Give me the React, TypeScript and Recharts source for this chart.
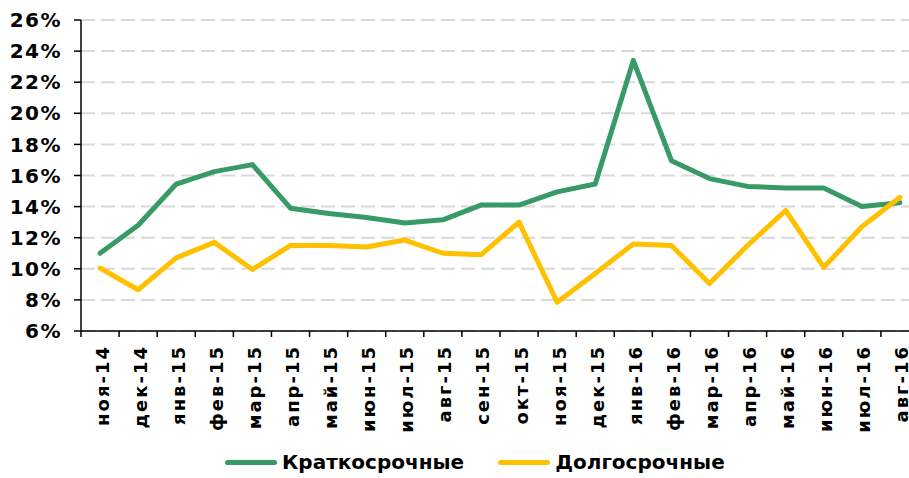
import React from 'react';
import { LineChart, Line, XAxis, YAxis, CartesianGrid, Legend } from 'recharts';

const months = ['ноя-14','дек-14','янв-15','фев-15','мар-15','апр-15','май-15','июн-15','июл-15','авг-15','сен-15','окт-15','ноя-15','дек-15','янв-16','фев-16','мар-16','апр-16','май-16','июн-16','июл-16','авг-16'];
const shortTerm = [11.0, 12.8, 15.45, 16.25, 16.7, 13.9, 13.55, 13.3, 12.95, 13.15, 14.1, 14.1, 14.95, 15.45, 23.4, 16.95, 15.8, 15.3, 15.2, 15.2, 14.0, 14.25];
const longTerm = [10.05, 8.65, 10.7, 11.7, 9.95, 11.5, 11.5, 11.4, 11.85, 11.0, 10.9, 13.0, 7.85, 9.7, 11.6, 11.5, 9.05, 11.5, 13.75, 10.1, 12.7, 14.6];
const yTicks = [6, 8, 10, 12, 14, 16, 18, 20, 22, 24, 26];
const seriesNames = ['Краткосрочные', 'Долгосрочные'];
const seriesColors = ['#379A67', '#FFC000'];

const data = months.map((m, i) => ({ month: m, short: shortTerm[i], long: longTerm[i] }));

const FONT = '"DejaVu Sans", Verdana, sans-serif';

const XTick = (props: any) => {
  const { x, y, payload, width, visibleTicksCount, index } = props;
  const half = width / visibleTicksCount / 2;
  const axisY = y - 14;
  return (
    <g>
      <line x1={x - half} x2={x - half} y1={axisY} y2={axisY + 6} stroke="#000" strokeWidth={1.5} />
      {index === visibleTicksCount - 1 && (
        <line x1={x + half} x2={x + half} y1={axisY} y2={axisY + 6} stroke="#000" strokeWidth={1.5} />
      )}
      <text
        x={x + 2}
        y={y}
        transform={`rotate(-90 ${x + 2} ${y})`}
        textAnchor="end"
        dominantBaseline="central"
        fontFamily={FONT}
        fontWeight="bold"
        fontSize={18}
        letterSpacing={2}
        fill="#000"
      >
        {payload.value}
      </text>
    </g>
  );
};

const LegendContent = () => (
  <div style={{ height: 32, display: 'flex', alignItems: 'center', paddingLeft: 225, fontFamily: FONT, fontWeight: 'bold', fontSize: 20, color: '#000' }}>
    {seriesNames.map((n, i) => (
      <div key={n} style={{ display: 'flex', alignItems: 'center', marginRight: 34 }}>
        <div style={{ width: 52, height: 5, borderRadius: 3, background: seriesColors[i], marginRight: 5 }} />
        <span>{n}</span>
      </div>
    ))}
  </div>
);

export default function App() {
  return (
    <div style={{ position: 'absolute', left: 0, top: 0, width: 909, height: 478, overflow: 'hidden', background: '#fff' }}>
      <LineChart width={930} height={478} data={data} margin={{ top: 20, right: 11, left: 0, bottom: 0 }}>
        <CartesianGrid vertical={false} stroke="#D9D9D9" strokeWidth={2} strokeDasharray="14 6" />
        <XAxis
          dataKey="month"
          scale="band"
          interval={0}
          height={115}
          tick={<XTick />}
          tickSize={6}
          tickMargin={8}
          axisLine={{ stroke: '#000', strokeWidth: 1.5 }}
          tickLine={false}
        />
        <YAxis
          width={81}
          domain={[6, 26]}
          ticks={yTicks}
          interval={0}
          tickFormatter={(v: number) => `${v}%`}
          tickSize={7}
          tickMargin={12}
          axisLine={{ stroke: '#000', strokeWidth: 1.5 }}
          tickLine={{ stroke: '#000', strokeWidth: 1.5 }}
          tick={{ fontFamily: FONT, fontWeight: 'bold', fontSize: 20, fill: '#000', letterSpacing: 1.5 }}
        />
        <Legend verticalAlign="bottom" content={<LegendContent />} wrapperStyle={{ left: 0, width: 909 }} />
        <Line type="linear" dataKey="short" name={seriesNames[0]} stroke={seriesColors[0]} strokeWidth={5} dot={false} strokeLinecap="round" strokeLinejoin="round" isAnimationActive={false} />
        <Line type="linear" dataKey="long" name={seriesNames[1]} stroke={seriesColors[1]} strokeWidth={5} dot={false} strokeLinecap="round" strokeLinejoin="round" isAnimationActive={false} />
      </LineChart>
    </div>
  );
}
